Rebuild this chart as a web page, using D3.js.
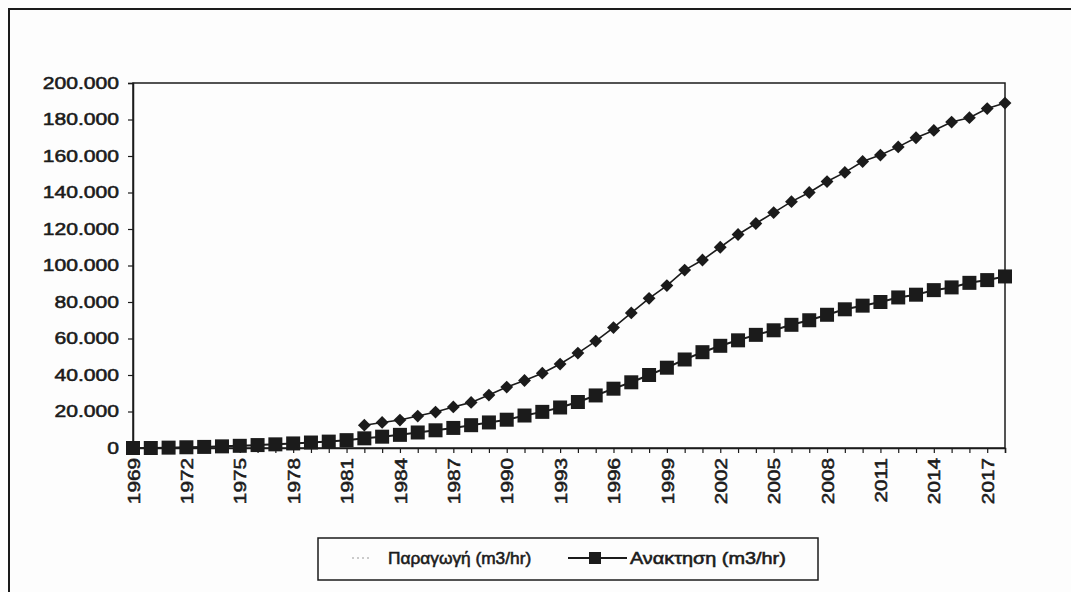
<!DOCTYPE html>
<html>
<head>
<meta charset="utf-8">
<script src="https://cdn.jsdelivr.net/npm/d3@7"></script>
<style>
  html, body { margin: 0; padding: 0; background: #fdfdfd; }
  svg { display: block; }
  text { font-family: "Liberation Sans", Arial, sans-serif; fill: #1b1b1b; stroke: #1b1b1b; stroke-width: 0.55px; }
</style>
</head>
<body>
<svg id="chart" width="1071" height="592"></svg>
<script>
// Categories: one per year
const years = [1969, 1970, 1971, 1972, 1973, 1974, 1975, 1976, 1977, 1978,
  1979, 1980, 1981, 1982, 1983, 1984, 1985, 1986, 1987, 1988,
  1989, 1990, 1991, 1992, 1993, 1994, 1995, 1996, 1997, 1998,
  1999, 2000, 2001, 2002, 2003, 2004, 2005, 2006, 2007, 2008,
  2009, 2010, 2011, 2012, 2013, 2014, 2015, 2016, 2017, 2018];

// Παραγωγή (m3/hr) — no values before 1982
const production = [null, null, null, null, null, null, null, null, null, null,
  null, null, null, 12500, 14000, 15300, 17500, 19700, 22500, 25000,
  29000, 33400, 37000, 41000, 46000, 52000, 58600, 66000, 74000, 82000,
  89000, 97500, 103000, 110000, 117000, 123000, 129000, 135000, 140000, 146000,
  151000, 157000, 160500, 165000, 170000, 174000, 178600, 181000, 186000, 189000];

// Ανακτηση (m3/hr)
const recovery = [0, 0, 200, 400, 600, 900, 1200, 1600, 2000, 2500,
  3000, 3500, 4300, 5300, 6200, 7200, 8500, 9700, 11000, 12500,
  14000, 15500, 17800, 19800, 22200, 25200, 28800, 32500, 36000, 40000,
  44000, 48500, 52500, 56000, 59000, 62000, 64500, 67500, 70000, 73000,
  76000, 78000, 80000, 82500, 84000, 86500, 88000, 90500, 92000, 94000];

const yTicks = [0, 20000, 40000, 60000, 80000, 100000, 120000, 140000, 160000, 180000, 200000];
const xTickLabels = [1969, 1972, 1975, 1978, 1981, 1984, 1987, 1990, 1993, 1996,
  1999, 2002, 2005, 2008, 2011, 2014, 2017];

const seriesNames = ["Παραγωγή (m3/hr)", "Ανακτηση  (m3/hr)"];

const ink = "#1b1b1b";
const svg = d3.select("#chart");

// Page frame
svg.append("path")
  .attr("d", "M9,592 V9 H1071")
  .attr("fill", "none").attr("stroke", ink).attr("stroke-width", 2);

const plot = { left: 133, right: 1005, top: 83, bottom: 448 };

const x = d3.scalePoint().domain(years).range([plot.left, plot.right]);
const y = d3.scaleLinear().domain([0, 200000]).range([plot.bottom, plot.top]);

const grLocale = d3.formatLocale({ decimal: ",", thousands: ".", grouping: [3], currency: ["", "€"] });
const fmt = grLocale.format(",");

// Stretch text along its baseline to the wide face used by the chart
function widen(sel, k) {
  sel.each(function () {
    const w = this.getComputedTextLength();
    d3.select(this).attr("textLength", w * k).attr("lengthAdjust", "spacingAndGlyphs");
  });
}

// Plot border
svg.append("rect")
  .attr("x", plot.left).attr("y", plot.top)
  .attr("width", plot.right - plot.left).attr("height", plot.bottom - plot.top)
  .attr("fill", "none").attr("stroke", ink).attr("stroke-width", 1.5);

// Y axis
const yAxis = svg.append("g")
  .attr("transform", `translate(${plot.left},0)`)
  .call(d3.axisLeft(y).tickValues(yTicks).tickFormat(fmt).tickSize(5).tickPadding(9));
yAxis.select(".domain").attr("stroke", ink).attr("stroke-width", 1.5);
yAxis.selectAll(".tick line").attr("stroke", ink).attr("stroke-width", 1.2);
yAxis.selectAll(".tick text")
  .attr("font-size", 17).attr("fill", ink)
  .style("font-family", '"Liberation Sans", Arial, sans-serif')
  .call(widen, 1.24);

// X axis: a tick at every year, labels every third year
const xAxis = svg.append("g")
  .attr("transform", `translate(0,${plot.bottom})`)
  .call(d3.axisBottom(x).tickSize(5)
    .tickFormat(d => xTickLabels.includes(d) ? String(d) : ""));
xAxis.select(".domain").attr("stroke", ink).attr("stroke-width", 1.5);
xAxis.selectAll(".tick line").attr("stroke", ink).attr("stroke-width", 1.2);
xAxis.selectAll(".tick text")
  .attr("font-size", 17).attr("fill", ink)
  .style("font-family", '"Liberation Sans", Arial, sans-serif')
  .attr("text-anchor", "end")
  .attr("transform", "rotate(-90)")
  .attr("x", -10).attr("y", 0).attr("dy", "0.36em")
  .call(widen, 1.22);

// Series lines
const line = d3.line()
  .defined(d => d.v != null)
  .x(d => x(d.year)).y(d => y(d.v));

const prodData = years.map((year, i) => ({ year, v: production[i] }));
const recData = years.map((year, i) => ({ year, v: recovery[i] }));

svg.append("path").datum(prodData)
  .attr("d", line).attr("fill", "none")
  .attr("stroke", ink).attr("stroke-width", 1.6);

svg.append("path").datum(recData)
  .attr("d", line).attr("fill", "none")
  .attr("stroke", ink).attr("stroke-width", 2);

// Markers
const diamond = d3.symbol().type(d3.symbolDiamond2).size(105);
svg.append("g").selectAll("path")
  .data(prodData.filter(d => d.v != null))
  .join("path")
  .attr("d", diamond)
  .attr("transform", d => `translate(${x(d.year)},${y(d.v)})`)
  .attr("fill", ink);

svg.append("g").selectAll("rect")
  .data(recData)
  .join("rect")
  .attr("x", d => x(d.year) - 7).attr("y", d => y(d.v) - 7)
  .attr("width", 14).attr("height", 14)
  .attr("fill", ink);

// Legend
const lg = svg.append("g");
lg.append("rect")
  .attr("x", 318).attr("y", 538).attr("width", 500).attr("height", 42)
  .attr("fill", "none").attr("stroke", ink).attr("stroke-width", 1.5);

lg.append("line")
  .attr("x1", 352).attr("x2", 372).attr("y1", 558).attr("y2", 558)
  .attr("stroke", "#bbb").attr("stroke-width", 1.5).attr("stroke-dasharray", "2,3");
lg.append("text")
  .attr("x", 388).attr("y", 564).attr("font-size", 16)
  .text(seriesNames[0]).call(widen, 1.08);

lg.append("line")
  .attr("x1", 568).attr("x2", 627).attr("y1", 558).attr("y2", 558)
  .attr("stroke", ink).attr("stroke-width", 2);
lg.append("rect")
  .attr("x", 589).attr("y", 552).attr("width", 12).attr("height", 12)
  .attr("fill", ink);
lg.append("text")
  .attr("x", 630).attr("y", 564).attr("font-size", 16)
  .text(seriesNames[1]).call(widen, 1.24);
</script>
</body>
</html>
